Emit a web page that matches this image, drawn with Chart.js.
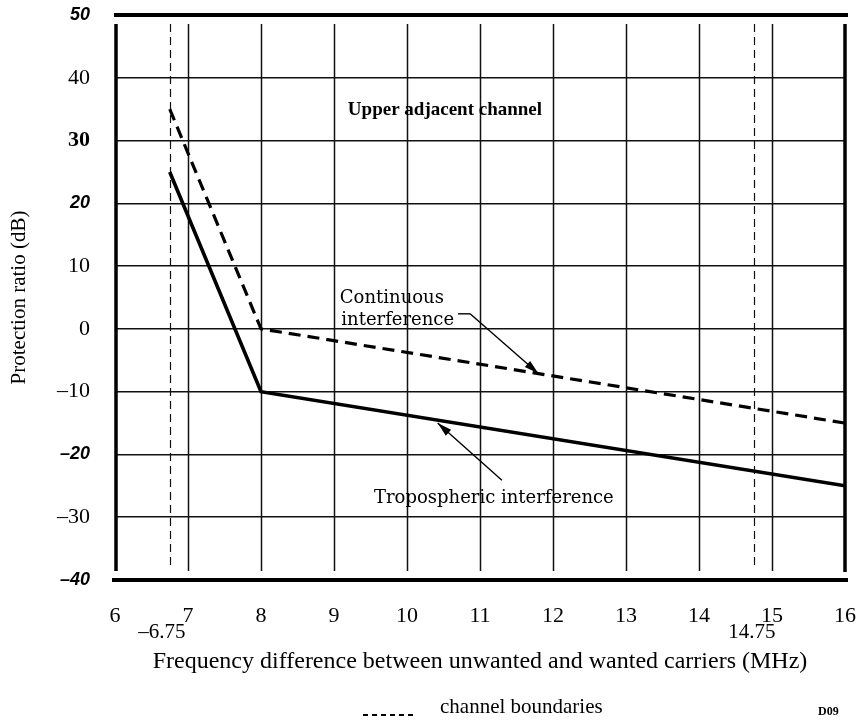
<!DOCTYPE html>
<html>
<head>
<meta charset="utf-8">
<script src="https://cdn.jsdelivr.net/npm/chart.js@4.4.0/dist/chart.umd.min.js"></script>
<style>
    html, body { margin: 0; padding: 0; background: #fff; }
</style>
</head>
<body>
<canvas id="protectionChart" width="859" height="722"></canvas>
<script>
// data
var freqContinuous = [6.75, 8, 16];
var ratioContinuous = [35, 0, -15];
var freqTropospheric = [6.75, 8, 16];
var ratioTropospheric = [25, -10, -25];
var channelBoundaries = [6.75, 14.75];
var boundaryLabels = ['\u20136.75', '14.75'];
var xTickValues = [6, 7, 8, 9, 10, 11, 12, 13, 14, 15, 16];
var yTickValues = [50, 40, 30, 20, 10, 0, -10, -20, -30, -40];

var serif = '"Liberation Serif", "DejaVu Serif", serif';
var wideSerif = '"DejaVu Serif", "Liberation Serif", serif';
var sans = '"Liberation Sans", Arial, sans-serif';
var ink = '#111';

function toPoints(xs, ys) {
    return xs.map(function (x, i) { return { x: x, y: ys[i] }; });
}

// tick label fonts vary in the scanned figure
function yTickFont(ctx) {
    var v = ctx.tick ? ctx.tick.value : 0;
    if (v === 50 || v === 20 || v === -20 || v === -40) {
        return { family: sans, size: 18, style: 'italic', weight: 'bold' };
    }
    if (v === 30) {
        return { family: serif, size: 22, weight: 'bold' };
    }
    return { family: serif, size: 22 };
}

function noScalePadding(scale) {
    scale.paddingTop = 0;
    scale.paddingBottom = 0;
    scale.paddingLeft = 0;
    scale.paddingRight = 0;
}

function arrow(ctx, x1, y1, x2, y2) {
    var ang = Math.atan2(y2 - y1, x2 - x1);
    ctx.beginPath();
    ctx.moveTo(x1, y1);
    ctx.lineTo(x2, y2);
    ctx.stroke();
    ctx.beginPath();
    ctx.moveTo(x2, y2);
    ctx.lineTo(x2 - 15 * Math.cos(ang - 0.27), y2 - 15 * Math.sin(ang - 0.27));
    ctx.lineTo(x2 - 15 * Math.cos(ang + 0.27), y2 - 15 * Math.sin(ang + 0.27));
    ctx.closePath();
    ctx.fill();
}

// frame, inner grid, boundaries, annotations
var figurePlugin = {
    id: 'figure',
    beforeDatasetsDraw: function (chart) {
        var ctx = chart.ctx;
        var a = chart.chartArea;
        var xs = chart.scales.x;
        ctx.save();
        ctx.strokeStyle = ink;
        ctx.lineWidth = 1.5;
        xTickValues.forEach(function (v) {
            if (v === xs.min || v === xs.max) return;
            var px = Math.round(xs.getPixelForValue(v)) + 0.5;
            ctx.beginPath();
            ctx.moveTo(px, a.top + 9);
            ctx.lineTo(px, a.bottom - 9);
            ctx.stroke();
        });
        // channel boundaries
        ctx.lineWidth = 1.2;
        ctx.setLineDash([8, 5]);
        channelBoundaries.forEach(function (v) {
            var px = Math.round(xs.getPixelForValue(v)) + 0.5;
            ctx.beginPath();
            ctx.moveTo(px, a.top + 9);
            ctx.lineTo(px, a.bottom - 14);
            ctx.stroke();
        });
        ctx.restore();
    },
    afterDraw: function (chart) {
        var ctx = chart.ctx;
        var a = chart.chartArea;
        var xs = chart.scales.x;
        var ys = chart.scales.y;
        ctx.save();
        ctx.strokeStyle = '#000';
        ctx.fillStyle = '#000';

        // thick frame
        ctx.lineWidth = 4;
        ctx.beginPath();
        ctx.moveTo(a.left - 1, a.top); ctx.lineTo(a.right + 3, a.top);
        ctx.moveTo(a.left - 3, a.bottom); ctx.lineTo(a.right + 3, a.bottom);
        ctx.stroke();
        ctx.lineWidth = 3.5;
        ctx.beginPath();
        ctx.moveTo(a.left + 1, a.top + 9); ctx.lineTo(a.left + 1, a.bottom - 9);
        ctx.moveTo(a.right, a.top + 9); ctx.lineTo(a.right, a.bottom - 8);
        ctx.stroke();

        // boundary values under the axis
        ctx.font = '21px ' + serif;
        ctx.textAlign = 'center';
        ctx.textBaseline = 'middle';
        ctx.fillText(boundaryLabels[0], xs.getPixelForValue(channelBoundaries[0]) - 8, a.bottom + 52);
        ctx.fillText(boundaryLabels[1], xs.getPixelForValue(channelBoundaries[1]) - 2, a.bottom + 52);

        // annotations
        ctx.font = 'bold 19px ' + serif;
        ctx.fillText('Upper adjacent channel', xs.getPixelForValue(10.52), ys.getPixelForValue(34.9));
        ctx.font = '18px ' + wideSerif;
        ctx.fillText('Tropospheric interference', xs.getPixelForValue(11.19), ys.getPixelForValue(-27));
        ctx.textAlign = 'left';
        ctx.fillText('Continuous', xs.getPixelForValue(9.08), ys.getPixelForValue(4.9));
        ctx.fillText('interference', xs.getPixelForValue(9.1), ys.getPixelForValue(1.3));

        ctx.lineWidth = 1.4;
        // continuous leader
        var sx = xs.getPixelForValue(10.7), sy = ys.getPixelForValue(2.4);
        ctx.beginPath();
        ctx.moveTo(sx, sy);
        ctx.lineTo(sx + 12, sy);
        ctx.stroke();
        arrow(ctx, sx + 12, sy, xs.getPixelForValue(11.8), ys.getPixelForValue(-7.1));
        // tropospheric leader
        arrow(ctx, xs.getPixelForValue(11.3), ys.getPixelForValue(-24.1),
            xs.getPixelForValue(10.42), ys.getPixelForValue(-15));

        // x title and key
        ctx.textAlign = 'center';
        ctx.font = '24px ' + serif;
        ctx.fillText('Frequency difference between unwanted and wanted carriers (MHz)', 480, 662);
        ctx.textAlign = 'left';
        ctx.font = '21px ' + serif;
        ctx.fillText('channel boundaries', 440, 707);
        ctx.lineWidth = 2;
        ctx.setLineDash([5, 4]);
        ctx.beginPath();
        ctx.moveTo(363, 715);
        ctx.lineTo(416, 715);
        ctx.stroke();
        ctx.setLineDash([]);
        ctx.font = 'bold 12px ' + serif;
        ctx.fillText('D09', 818, 712);
        ctx.restore();
    }
};

var ctxProtection = document.getElementById('protectionChart').getContext('2d');

var protectionChart = new Chart(ctxProtection, {
    type: 'line',
    data: {
        datasets: [{
            label: 'Continuous interference',
            data: toPoints(freqContinuous, ratioContinuous),
            borderColor: '#000',
            borderWidth: 3.2,
            borderDash: [12, 7],
            pointRadius: 0,
            tension: 0
        }, {
            label: 'Tropospheric interference',
            data: toPoints(freqTropospheric, ratioTropospheric),
            borderColor: '#000',
            borderWidth: 3.6,
            pointRadius: 0,
            tension: 0
        }]
    },
    options: {
        responsive: false,
        animation: false,
        layout: { padding: { top: 15, right: 14, left: 0, bottom: 0 } },
        plugins: {
            legend: { display: false },
            tooltip: { enabled: false }
        },
        scales: {
            x: {
                type: 'linear',
                min: 6,
                max: 16,
                afterFit: function (scale) {
                    scale.height = 142;
                    noScalePadding(scale);
                },
                afterBuildTicks: function (scale) {
                    scale.ticks = xTickValues.map(function (v) { return { value: v }; });
                },
                grid: { display: false },
                border: { display: false },
                ticks: {
                    color: '#000',
                    padding: 15,
                    maxRotation: 0,
                    font: { family: serif, size: 22 }
                }
            },
            y: {
                min: -40,
                max: 50,
                afterFit: function (scale) {
                    scale.width = 115;
                    noScalePadding(scale);
                },
                afterBuildTicks: function (scale) {
                    scale.ticks = yTickValues.map(function (v) { return { value: v }; });
                },
                grid: {
                    drawTicks: false,
                    lineWidth: 1.5,
                    color: function (c) {
                        var v = c.tick ? c.tick.value : 0;
                        return (v === 50 || v === -40) ? 'rgba(0,0,0,0)' : ink;
                    }
                },
                border: { display: false },
                title: {
                    display: true,
                    text: 'Protection ratio (dB)',
                    color: '#000',
                    font: { family: serif, size: 21 },
                    padding: { top: 7, bottom: 0 }
                },
                ticks: {
                    color: '#000',
                    padding: 25,
                    font: yTickFont,
                    callback: function (v) { return String(v).replace('-', '\u2013'); }
                }
            }
        }
    },
    plugins: [figurePlugin]
});
</script>
</body>
</html>
